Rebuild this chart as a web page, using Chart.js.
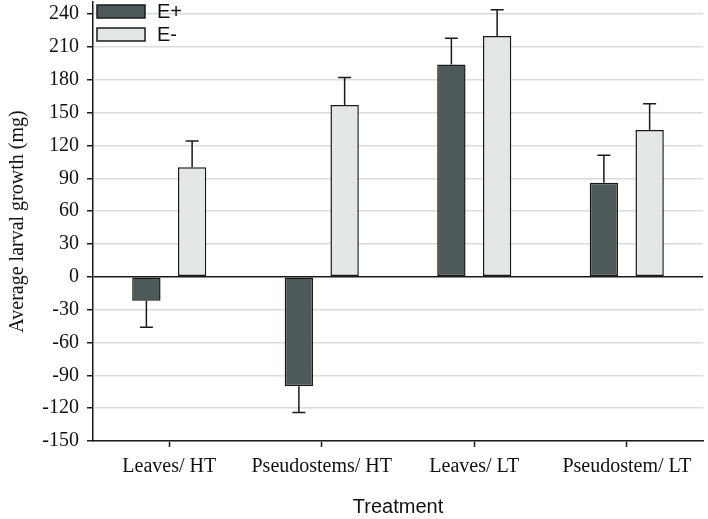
<!DOCTYPE html>
<html>
<head>
<meta charset="utf-8">
<script src="https://cdn.jsdelivr.net/npm/chart.js@4/dist/chart.umd.min.js"></script>
<style>
  body { margin: 0; background: #fff; }
</style>
</head>
<body>
<canvas id="larvaCanvas" width="708" height="519"></canvas>
<script>
////////////data////////////
var treatments = ['Leaves/ HT', 'Pseudostems/ HT', 'Leaves/ LT', 'Pseudostem/ LT'];
var ePlus = [-22, -100, 194, 86];
var ePlusErr = [24, 24, 24, 25];
var eMinus = [100, 157, 220, 134];
var eMinusErr = [24, 25, 24, 24];
var yTicks = [-150, -120, -90, -60, -30, 0, 30, 60, 90, 120, 150, 180, 210, 240];

var serif = '"Liberation Serif", "Times New Roman", serif';
var sans = '"Liberation Sans", Arial, sans-serif';

////////////error bars (drawn through the scales)////////////
var errorBars = {
	id: 'errorBars',
	afterDatasetsDraw: function(chart) {
		var ctx = chart.ctx, y = chart.scales.y;
		chart.data.datasets.forEach(function(ds, i) {
			var meta = chart.getDatasetMeta(i);
			meta.data.forEach(function(bar, j) {
				var v = ds.data[j], e = ds.errors[j];
				var end = v < 0 ? v - e : v + e;
				var yEnd = y.getPixelForValue(end);
				ctx.save();
				ctx.strokeStyle = '#1a1a1a';
				ctx.lineWidth = 1.5;
				ctx.beginPath();
				ctx.moveTo(bar.x, bar.y);
				ctx.lineTo(bar.x, yEnd);
				ctx.moveTo(bar.x - 6.5, yEnd);
				ctx.lineTo(bar.x + 6.5, yEnd);
				ctx.stroke();
				ctx.restore();
			});
		});
	}
};

////////////legend inside the plot////////////
var boxLegend = {
	id: 'boxLegend',
	afterDraw: function(chart) {
		var ctx = chart.ctx, area = chart.chartArea;
		chart.data.datasets.forEach(function(ds, i) {
			var x = area.left + 4, top = area.top + 3 + i * 23;
			ctx.save();
			ctx.fillStyle = ds.backgroundColor;
			ctx.strokeStyle = '#1a1a1a';
			ctx.lineWidth = 1.5;
			ctx.fillRect(x, top, 48, 13);
			ctx.strokeRect(x, top, 48, 13);
			ctx.fillStyle = '#111';
			ctx.font = '20px ' + sans;
			ctx.textBaseline = 'middle';
			ctx.fillText(ds.label, x + 60, top + 7);
			ctx.restore();
		});
	}
};

////////////create chart////////////
var myChart = new Chart(document.getElementById('larvaCanvas'), {
	type: 'bar',
	data: {
		labels: treatments,
		datasets: [{
			label: 'E+',
			data: ePlus,
			errors: ePlusErr,
			backgroundColor: '#4e5a59',
			borderColor: '#1a1a1a',
			borderWidth: 1.5,
			borderSkipped: false
		}, {
			label: 'E-',
			data: eMinus,
			errors: eMinusErr,
			backgroundColor: '#e3e7e7',
			borderColor: '#1a1a1a',
			borderWidth: 1.5,
			borderSkipped: false
		}]
	},
	plugins: [errorBars, boxLegend],
	options: {
		responsive: false,
		animation: false,
		categoryPercentage: 0.6,
		barPercentage: 0.62,
		layout: { padding: { top: 2, right: 5, left: 0, bottom: 0 } },
		plugins: {
			legend: { display: false },
			tooltip: { enabled: false }
		},
		scales: {
			x: {
				grid: {
					offset: false,
					drawOnChartArea: false,
					drawTicks: true,
					tickLength: 6,
					tickColor: '#1a1a1a',
					tickWidth: 1.5
				},
				border: { color: '#1a1a1a', width: 1.5 },
				ticks: {
					color: '#111',
					font: { family: serif, size: 20 },
					padding: 8,
					maxRotation: 0
				},
				title: {
					display: true,
					text: 'Treatment',
					color: '#111',
					font: { family: sans, size: 20 },
					padding: { top: 14, bottom: 0 }
				},
				afterFit: function(scale) { scale.height = 78; }
			},
			y: {
				min: -150,
				max: 251,
				afterBuildTicks: function(scale) {
					scale.ticks = yTicks.map(function(v) { return { value: v }; });
				},
				grid: {
					color: function(c) { return c.tick && c.tick.value === 0 ? '#1a1a1a' : '#d9dddd'; },
					lineWidth: 1.5,
					tickColor: '#1a1a1a',
					tickLength: 6,
					tickWidth: 1.5
				},
				border: { color: '#1a1a1a', width: 1.5 },
				ticks: {
					color: '#111',
					font: { family: serif, size: 20 },
					padding: 8
				},
				title: {
					display: true,
					text: 'Average larval growth (mg)',
					color: '#111',
					font: { family: serif, size: 20 },
					padding: { top: 6, bottom: 4 }
				},
				afterFit: function(scale) {
					scale.width = 93;
					scale.paddingTop = 0;
					scale.paddingBottom = 0;
				}
			}
		}
	}
}); //end new Chart
</script>
</body>
</html>
